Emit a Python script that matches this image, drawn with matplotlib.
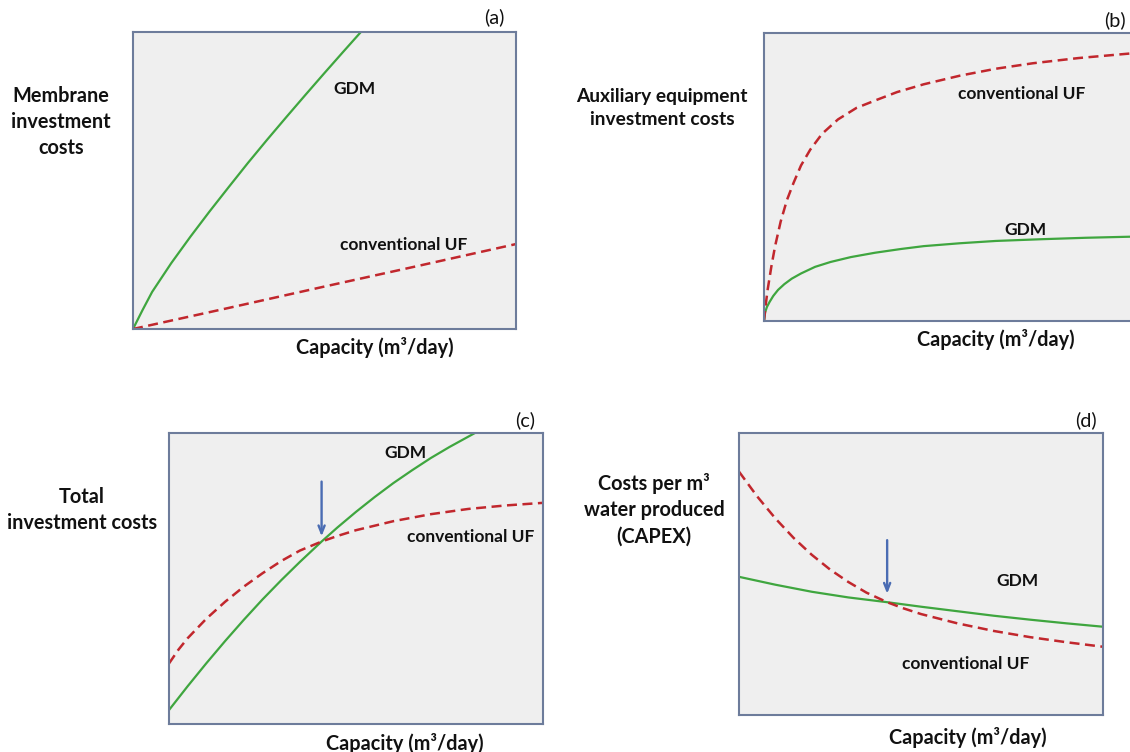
"""Schematic cost curves: GDM vs conventional UF, four panels (a)-(d)."""

import matplotlib

matplotlib.use("Agg")
import matplotlib.pyplot as plt

W_PX, H_PX = 1130, 752

# curve values, normalised to each panel box (x and y in 0..1)
A_GDM_X = [0, 0.025, 0.05, 0.1, 0.15, 0.2, 0.25, 0.3, 0.35, 0.4, 0.45, 0.5, 0.55, 0.595]
A_GDM_Y = [0, 0.064, 0.125, 0.222, 0.311, 0.396, 0.478, 0.559, 0.637, 0.713, 0.788, 0.862, 0.935, 1.0]
A_UF_X = [0, 0.25, 0.5, 0.75, 1.0]
A_UF_Y = [0, 0.071, 0.143, 0.214, 0.286]

B_UF_X = [0, 0.005, 0.01, 0.02, 0.03, 0.045, 0.062, 0.08, 0.1, 0.125, 0.157, 0.2, 0.25,
          0.303, 0.36, 0.432, 0.53, 0.627, 0.727, 0.85, 1.0]
B_UF_Y = [0, 0.06, 0.11, 0.19, 0.26, 0.345, 0.42, 0.48, 0.54, 0.595, 0.65, 0.70, 0.74,
          0.767, 0.795, 0.822, 0.852, 0.876, 0.895, 0.913, 0.93]
B_GDM_X = [0, 0.003, 0.008, 0.015, 0.025, 0.038, 0.055, 0.075, 0.1, 0.138, 0.18, 0.235,
           0.3, 0.37, 0.432, 0.53, 0.627, 0.75, 0.87, 1.0]
B_GDM_Y = [0, 0.03, 0.049, 0.066, 0.087, 0.108, 0.128, 0.147, 0.165, 0.188, 0.205, 0.222,
           0.237, 0.25, 0.26, 0.27, 0.278, 0.284, 0.289, 0.293]

C_GDM_X = [0, 0.05, 0.1, 0.15, 0.2, 0.25, 0.3, 0.35, 0.408, 0.45, 0.5, 0.55, 0.6, 0.65, 0.7, 0.75, 0.818]
C_GDM_Y = [0.048, 0.130, 0.209, 0.285, 0.358, 0.428, 0.494, 0.557, 0.627, 0.675, 0.729, 0.780,
           0.828, 0.872, 0.914, 0.952, 1.0]
C_UF_X = [0, 0.025, 0.05, 0.1, 0.15, 0.2, 0.25, 0.3, 0.35, 0.408, 0.45, 0.5, 0.6, 0.7, 0.8, 0.9, 1.0]
C_UF_Y = [0.208, 0.255, 0.295, 0.362, 0.42, 0.472, 0.518, 0.560, 0.596, 0.627, 0.646, 0.666,
          0.697, 0.721, 0.739, 0.751, 0.760]

D_UF_X = [0, 0.05, 0.1, 0.15, 0.2, 0.25, 0.3, 0.35, 0.407, 0.45, 0.5, 0.6, 0.7, 0.8, 0.9, 1.0]
D_UF_Y = [0.863, 0.775, 0.697, 0.628, 0.568, 0.516, 0.472, 0.434, 0.400, 0.379, 0.358, 0.325,
          0.298, 0.276, 0.258, 0.242]
D_GDM_X = [0, 0.1, 0.2, 0.3, 0.407, 0.5, 0.6, 0.7, 0.8, 0.9, 1.0]
D_GDM_Y = [0.49, 0.462, 0.437, 0.417, 0.40, 0.384, 0.368, 0.352, 0.338, 0.325, 0.313]

# arrows marking the break-even point: (x, y_start, y_end)
C_ARROW = (0.408, 0.833, 0.645)
D_ARROW = (0.407, 0.62, 0.43)

GREEN = "#3fa63f"
RED = "#c1272d"
BLUE = "#4a6cb3"
FRAME = "#6d7c9b"
FILL = "#efefef"
FONT = ["Lato", "DejaVu Sans"]
FS = 14.3        # axis titles and panel letters
FS_CURVE = 12.5  # curve names inside the boxes


def px_box(x0, y0, x1, y1):
    return [x0 / W_PX, 1 - y1 / H_PX, (x1 - x0) / W_PX, (y1 - y0) / H_PX]


def fig_text(fig, x, y, s, bold=True, size=FS, **kw):
    fig.text(x / W_PX, 1 - y / H_PX, s, ha="center", va="center", fontsize=size,
             family=FONT, fontweight="bold" if bold else "normal", color="#111111", **kw)


def make_axes(fig, box):
    ax = fig.add_axes(px_box(*box))
    ax.set_facecolor(FILL)
    ax.set_xlim(0, 1)
    ax.set_ylim(0, 1)
    ax.set_xticks([])
    ax.set_yticks([])
    for spine in ax.spines.values():
        spine.set_color(FRAME)
        spine.set_linewidth(1.5)
    return ax


def draw_pair(ax, gx, gy, ux, uy):
    ax.plot(gx, gy, color=GREEN, lw=1.6, solid_capstyle="butt", solid_joinstyle="round")
    ax.plot(ux, uy, color=RED, lw=1.8, linestyle=(0, (4, 2.2)), dash_joinstyle="round")


def draw_arrow(ax, arrow):
    x, y0, y1 = arrow
    ax.annotate("", xy=(x, y1), xytext=(x, y0),
                arrowprops=dict(arrowstyle="->,head_length=0.55,head_width=0.22", color=BLUE,
                                lw=1.7, shrinkA=0, shrinkB=0))


fig = plt.figure(figsize=(W_PX / 100, H_PX / 100), dpi=100)

# (a)
ax = make_axes(fig, (133, 32, 516, 329))
draw_pair(ax, A_GDM_X, A_GDM_Y, A_UF_X, A_UF_Y)
fig_text(fig, 354, 89, "GDM", size=FS_CURVE)
fig_text(fig, 404, 245, "conventional UF", size=FS_CURVE)
fig_text(fig, 494, 17, "(a)", bold=False)
fig_text(fig, 61, 122, "Membrane\ninvestment\ncosts", linespacing=1.4)
fig_text(fig, 375, 347, "Capacity (m³/day)")

# (b), box runs off the right edge
ax = make_axes(fig, (764, 33, 1134, 321))
draw_pair(ax, B_GDM_X, B_GDM_Y, B_UF_X, B_UF_Y)
fig_text(fig, 1025, 230, "GDM", size=FS_CURVE)
fig_text(fig, 1022, 94, "conventional UF", size=FS_CURVE)
fig_text(fig, 1115, 20, "(b)", bold=False)
fig_text(fig, 662, 108, "Auxiliary equipment\ninvestment costs", linespacing=1.4, size=13.8)
fig_text(fig, 996, 339, "Capacity (m³/day)")

# (c)
ax = make_axes(fig, (169, 433, 543, 724))
draw_pair(ax, C_GDM_X, C_GDM_Y, C_UF_X, C_UF_Y)
draw_arrow(ax, C_ARROW)
fig_text(fig, 405, 453, "GDM", size=FS_CURVE)
fig_text(fig, 471, 537, "conventional UF", size=FS_CURVE)
fig_text(fig, 525, 420, "(c)", bold=False)
fig_text(fig, 82, 510, "Total\ninvestment costs", linespacing=1.4)
fig_text(fig, 405, 743, "Capacity (m³/day)")

# (d)
ax = make_axes(fig, (739, 433, 1103, 715))
draw_pair(ax, D_GDM_X, D_GDM_Y, D_UF_X, D_UF_Y)
draw_arrow(ax, D_ARROW)
fig_text(fig, 1017, 581, "GDM", size=FS_CURVE)
fig_text(fig, 966, 664, "conventional UF", size=FS_CURVE)
fig_text(fig, 1086, 420, "(d)", bold=False)
fig_text(fig, 654, 510, "Costs per m³\nwater produced\n(CAPEX)", linespacing=1.4)
fig_text(fig, 968, 737, "Capacity (m³/day)")

fig.savefig("out.png", dpi=100)
